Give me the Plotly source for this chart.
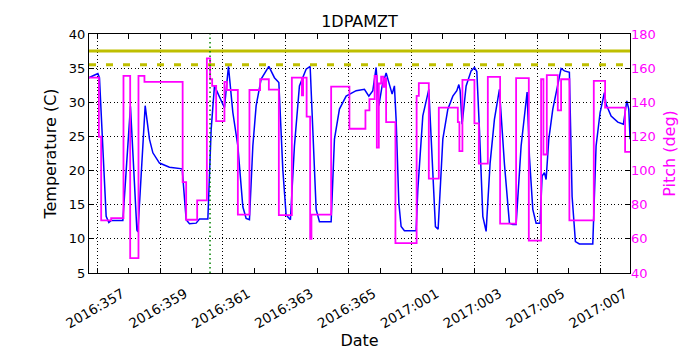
import pandas as pd
import plotly.graph_objects as go

# 1DPAMZT (ACIS DPA temp) with spacecraft pitch, 2016:357 - 2017:007

start = "2016:357"

# temperature trace, time in days after start
temp_days = [-0.264, 0.022, 0.073, 0.286, 0.372, 0.445, 0.817, 1.059, 1.263, 1.295,
             1.527, 1.663, 1.772, 1.982, 2.300, 2.704, 2.831, 2.936, 3.149, 3.254,
             3.521, 3.626, 3.731, 3.890, 4.049, 4.176, 4.316, 4.475, 4.634, 4.739,
             4.844, 4.952, 5.057, 5.216, 5.461, 5.639, 5.779, 5.906, 6.011, 6.148,
             6.275, 6.434, 6.647, 6.775, 6.861, 6.966, 7.071, 7.443, 7.548, 7.707,
             7.920, 8.238, 8.502, 8.642, 8.769, 8.874, 8.960, 9.065, 9.192, 9.297,
             9.383, 9.456, 9.510, 9.596, 9.669, 9.774, 10.146, 10.200, 10.359, 10.550,
             10.655, 10.760, 10.846, 10.996, 11.155, 11.314, 11.441, 11.505, 11.546, 11.609,
             11.737, 11.896, 12.001, 12.077, 12.160, 12.268, 12.373, 12.500, 12.637, 12.796,
             12.955, 13.114, 13.222, 13.327, 13.486, 13.677, 13.750, 13.858, 13.963, 14.090,
             14.154, 14.227, 14.281, 14.367, 14.494, 14.653, 14.758, 14.863, 15.022, 15.108,
             15.213, 15.340, 15.766, 15.871, 15.999, 16.135, 16.190, 16.349, 16.562, 16.740,
             16.848, 16.911, 16.953]
temp_vals = [33.6, 34.2, 33.6, 13.3, 12.4, 12.7, 12.7, 29.4, 11.3, 11.0,
             29.5, 24.6, 22.6, 21.1, 20.5, 20.25, 12.8, 12.2, 12.3, 12.9,
             12.9, 26.0, 32.4, 30.9, 29.2, 35.25, 28.5, 23.6, 14.7, 13.0,
             12.8, 23.6, 29.5, 33.4, 35.25, 33.6, 32.9, 20.1, 13.5, 12.8,
             23.6, 32.4, 34.85, 35.25, 26.0, 14.3, 12.5, 12.5, 24.6, 29.0,
             30.9, 31.7, 31.9, 30.9, 31.7, 35.1, 29.5, 32.4, 34.3, 32.6,
             31.2, 32.4, 27.5, 15.25, 11.8, 11.2, 11.2, 17.2, 28.0, 31.9,
             21.1, 11.8, 11.4, 24.6, 29.0, 30.9, 31.7, 32.6, 31.7, 26.8,
             32.4, 34.6, 35.1, 34.5, 26.0, 13.3, 11.1, 21.1, 27.5, 31.9,
             21.0, 12.3, 12.1, 12.1, 23.6, 31.5, 22.1, 14.3, 12.3, 12.3,
             19.2, 19.7, 18.7, 24.6, 29.0, 32.9, 34.95, 34.6, 34.4, 16.2,
             9.6, 9.25, 9.25, 23.6, 28.5, 31.4, 29.7, 28.0, 27.1, 26.8,
             30.2, 29.0, 24.6]

# pitch, step changes (value holds until next time)
pitch_days = [-0.264, 0.054, 0.127, 0.445, 0.837, 1.050, 1.314, 1.504, 2.719, 2.831,
              3.181, 3.489, 3.594, 3.658, 3.785, 4.049, 4.125, 4.475, 4.844, 5.184,
              5.461, 5.779, 6.193, 6.511, 6.552, 6.663, 6.775, 6.816, 7.443, 8.025,
              8.534, 8.661, 8.826, 8.896, 8.960, 9.033, 9.097, 9.145, 9.192, 9.488,
              10.162, 10.232, 10.550, 10.868, 11.473, 11.523, 11.619, 12.001, 12.141, 12.427,
              12.818, 13.327, 13.731, 14.122, 14.196, 14.303, 14.653, 14.758, 15.022, 15.798,
              16.158, 16.794, 16.953]
pitch_vals = [154.5, 119.8, 70.8, 72.2, 155.5, 48.7, 155.5, 152.0, 93.2, 71.2,
              82.6, 165.7, 153.5, 149.6, 129.0, 152.0, 147.2, 74.2, 147.2, 153.5,
              147.4, 73.9, 154.5, 144.0, 154.5, 131.6, 60.0, 74.2, 149.2, 124.5,
              135.3, 141.8, 155.5, 113.4, 151.0, 155.0, 149.0, 154.0, 128.4, 57.5,
              143.7, 151.2, 95.3, 136.9, 128.4, 111.4, 153.1, 127.7, 104.1, 154.9,
              68.9, 154.1, 59.0, 153.5, 109.4, 155.9, 135.3, 153.5, 70.8, 152.6,
              136.9, 111.0, 111.0]

yellow_limit = 37.5
planning_limit = 35.5
now_day = 3.59

tick_labels = ["2016:357", "2016:359", "2016:361", "2016:363", "2016:365",
               "2017:001", "2017:003", "2017:005", "2017:007"]
x_range_days = [-0.26, 16.95]

t0 = pd.to_datetime(start, format="%Y:%j")


def to_time(days):
    return t0 + pd.to_timedelta(days, unit="D")


fig = go.Figure()

fig.add_trace(go.Scatter(x=to_time(temp_days), y=temp_vals, mode="lines",
                         line=dict(color="#0000ff", width=1.5), yaxis="y"))

fig.add_hline(y=yellow_limit, line=dict(color="#bfbf00", width=3))
fig.add_hline(y=planning_limit, line=dict(color="#bfbf00", width=3, dash="7px,10px"))
fig.add_vline(x=str(to_time(now_day)), line=dict(color="#008000", width=1.5, dash="1.5px,3px"))

fig.add_trace(go.Scatter(x=to_time(pitch_days), y=pitch_vals, mode="lines",
                         line=dict(color="#ff00ff", width=1.8, shape="hv"), yaxis="y2"))

# page body adds 8px on top/left, margins take that into account
font = "DejaVu Sans"
fig.update_layout(
    width=700, height=350,
    margin=dict(l=81, r=78, t=26, b=85),
    paper_bgcolor="white", plot_bgcolor="white",
    showlegend=False,
    font=dict(family=font, size=13, color="black"),
    title=dict(text="1DPAMZT", x=0.5, xref="paper", xanchor="center",
               y=1 - 13 / 350, yanchor="middle", font=dict(size=16), automargin=False),
    xaxis=dict(
        range=[to_time(x_range_days[0]), to_time(x_range_days[1])],
        tickmode="array",
        tickvals=pd.to_datetime(tick_labels, format="%Y:%j"),
        ticktext=tick_labels,
        tickfont=dict(size=13.5),
        tickangle=-30, ticklabelshift=25, ticklabelstandoff=7,
        ticks="inside", ticklen=5, tickcolor="black",
        showline=True, linecolor="black", linewidth=1, mirror="allticks",
        showgrid=True, gridcolor="black", gridwidth=1, griddash="1px,2.5px",
        zeroline=False, automargin=False,
        minor=dict(tickmode="linear", tick0=str(t0), dtick=86400000,
                   ticks="inside", ticklen=3, tickcolor="black", showgrid=False),
        title=dict(text="Date", standoff=3),
    ),
    yaxis=dict(
        range=[5, 40], dtick=5,
        ticks="inside", ticklen=5, tickcolor="black",
        showline=True, linecolor="black", linewidth=1, mirror=True,
        showgrid=True, gridcolor="black", gridwidth=1, griddash="1px,2.5px",
        zeroline=False, automargin=False,
        title=dict(text="Temperature (C)", standoff=8),
    ),
    yaxis2=dict(
        range=[40, 180], dtick=20, overlaying="y", side="right",
        ticks="inside", ticklen=5, tickcolor="black",
        tickfont=dict(color="#ff00ff"),
        showgrid=False, zeroline=False, automargin=False,
        title=dict(text="Pitch (deg)", font=dict(color="#ff00ff"), standoff=8),
    ),
)

fig.write_html("out.html")
